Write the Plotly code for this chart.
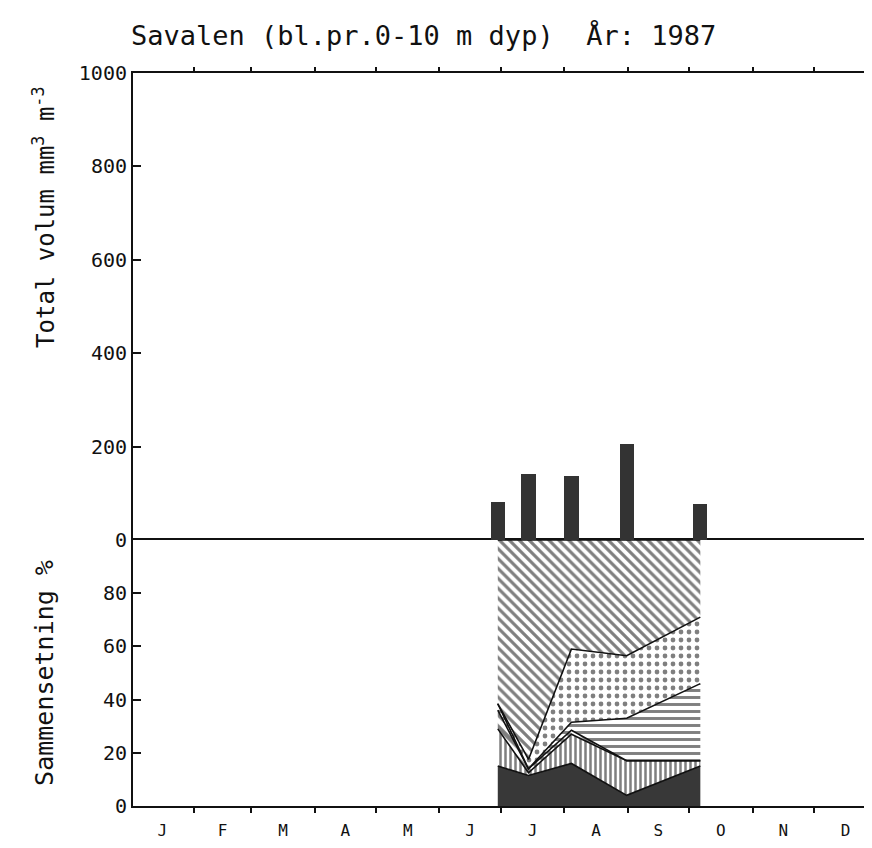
import plotly.graph_objects as go
import pandas as pd

# ---------------- data ----------------
title_text = "Savalen (bl.pr.0-10 m dyp)  År: 1987"
month_labels = ["J", "F", "M", "A", "M", "J", "J", "A", "S", "O", "N", "D"]
sample_dates = ["1987-06-29", "1987-07-14", "1987-08-04", "1987-08-31", "1987-10-06"]
total_volume = [82, 142, 136, 205, 78]          # mm3 m-3

# composition (% of total volume), bottom layer first
comp_dark = [15, 11.5, 16, 4, 15]
comp_vert = [14, 1, 11, 13, 2]
comp_coarse = [7, 1.5, 1.5, 0, 0]
comp_horiz = [2.5, 0, 3, 16, 29]
comp_dots = [0, 3.5, 27.5, 23.5, 25]
comp_diag = [100 - a - b - c - d - e for a, b, c, d, e in
             zip(comp_dark, comp_vert, comp_coarse, comp_horiz, comp_dots)]

vol_ticks = [0, 200, 400, 600, 800, 1000]
pct_ticks = [0, 20, 40, 60, 80]

# ---------------- derived ----------------
year_start = pd.Timestamp("1987-01-01")
days = [(pd.Timestamp(d) - year_start).days + 0.5 for d in sample_dates]
month_starts = [(pd.Timestamp(1987, m, 1) - year_start).days for m in range(1, 13)] + [365]
month_mids = [(month_starts[i] + month_starts[i + 1]) / 2 for i in range(12)]

FONT = "DejaVu Sans Mono"
INK = "#111111"
X_RANGE = [1.2, 358.5]
SPLIT = 0.3629

fig = go.Figure()

# top panel: bars
fig.add_trace(go.Bar(x=days, y=total_volume, width=7,
                     marker=dict(color="#333333", line=dict(width=0)),
                     xaxis="x2", yaxis="y2", showlegend=False))

layers = [
    (comp_dark, dict(fillcolor="#383838")),
    (comp_vert, dict(fillpattern=dict(shape="|", size=5, solidity=0.5, fgcolor="#000", bgcolor="white"))),
    (comp_coarse, dict(fillpattern=dict(shape="\\", size=9, solidity=0.5, fgcolor="#000", bgcolor="white"))),
    (comp_horiz, dict(fillpattern=dict(shape="-", size=7, solidity=0.42, fgcolor="#000", bgcolor="white"))),
    (comp_dots, dict(fillpattern=dict(shape=".", size=8, solidity=0.28, fgcolor="#000", bgcolor="white"))),
    (comp_diag, dict(fillpattern=dict(shape="\\", size=7, solidity=0.45, fgcolor="#000", bgcolor="white"))),
]
for vals, style in layers:
    fig.add_trace(go.Scatter(x=days, y=vals, mode="lines", stackgroup="comp",
                             line=dict(color=INK, width=1.6), showlegend=False,
                             xaxis="x", yaxis="y", **style))

line_common = dict(showgrid=False, zeroline=False, linecolor=INK, linewidth=2,
                   tickcolor=INK, tickwidth=1.5)
tick_font = dict(family=FONT, size=20, color=INK)

fig.update_layout(
    width=856, height=832,
    margin=dict(l=125, r=0, t=65, b=34, autoexpand=False),
    paper_bgcolor="white", plot_bgcolor="white",
    bargap=0,
    xaxis=dict(domain=[0, 1], range=X_RANGE, anchor="y",
               tickmode="array", tickvals=month_mids, ticktext=month_labels, ticks="",
               ticklabelstandoff=9,
               showline=True, mirror=True,
               minor=dict(tickmode="array", tickvals=month_starts[1:12], ticks="outside",
                          ticklen=5, tickcolor=INK, tickwidth=1.5),
               tickfont=dict(family=FONT, size=16, color=INK), **line_common),
    yaxis=dict(domain=[0, SPLIT], range=[0, 100], anchor="x",
               tickmode="array", tickvals=pct_ticks, ticks="inside", ticklen=8,
               showline=True, tickfont=tick_font, **line_common),
    xaxis2=dict(domain=[0, 1], range=X_RANGE, anchor="y2", side="top",
                tickmode="array", tickvals=month_starts[1:12], ticks="outside", ticklen=4,
                showticklabels=False, showline=True, **line_common),
    yaxis2=dict(domain=[SPLIT, 1], range=[0, 1000], anchor="x2",
                tickmode="array", tickvals=vol_ticks, ticks="inside", ticklen=8,
                showline=True, tickfont=tick_font, **line_common),
    annotations=[
        dict(text=title_text, xref="paper", yref="paper", x=0.0, y=1.0, yshift=20, xshift=-4,
             xanchor="left", yanchor="bottom", showarrow=False,
             font=dict(family=FONT, size=27, color=INK)),
        dict(text="Total volum mm<sup>3</sup> m<sup>-3</sup>", xref="paper", yref="paper",
             x=-0.121, y=0.803, textangle=-90, xanchor="center", yanchor="middle", showarrow=False,
             font=dict(family=FONT, size=24, color=INK)),
        dict(text="Sammensetning %", xref="paper", yref="paper",
             x=-0.121, y=0.181, textangle=-90, xanchor="center", yanchor="middle", showarrow=False,
             font=dict(family=FONT, size=25, color=INK)),
    ],
)

fig.write_html("out.html")
